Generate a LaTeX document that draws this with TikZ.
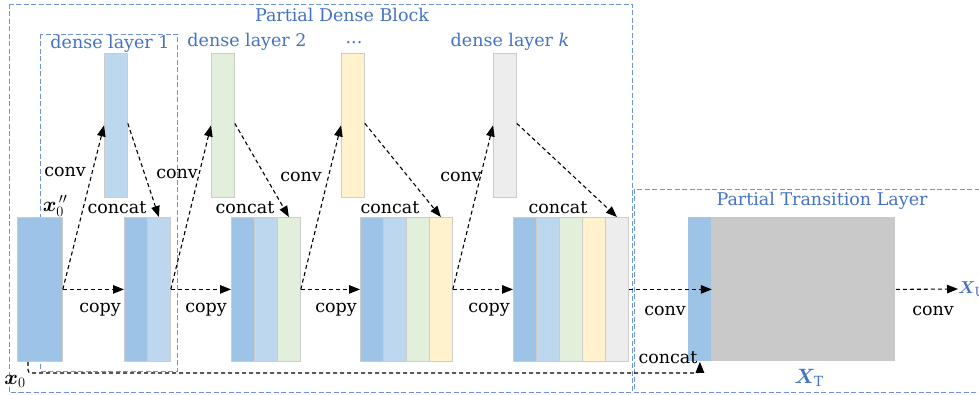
\documentclass[tikz,border=0pt]{standalone}
\usepackage{fontspec}
\usepackage{amsmath,bm}
\setmainfont{DejaVu Serif}
\usetikzlibrary{arrows.meta}
\definecolor{cA}{HTML}{9DC3E6}
\definecolor{cB}{HTML}{BDD7EE}
\definecolor{cC}{HTML}{E2EFDA}
\definecolor{cD}{HTML}{FFF2CC}
\definecolor{cE}{HTML}{EDEDED}
\definecolor{cG}{HTML}{C9C9C9}
\definecolor{tblue}{HTML}{4472C4}
\definecolor{bblue}{HTML}{6F93D6}
\tikzset{
  seg/.style={draw=black!20, line width=0.8pt, inner sep=0pt, minimum width=23pt, minimum height=144pt, anchor=north west},
  bar/.style={draw=black!20, line width=0.8pt, inner sep=0pt, minimum width=23pt, minimum height=144pt, anchor=north west},
  arr/.style={line width=1.1pt, dash pattern=on 4pt off 3pt, -{Triangle[length=11pt,width=8.5pt]}},
  frame/.style={draw=bblue, line width=0.9pt, dash pattern=on 5pt off 2.5pt},
  ttl/.style={text=tblue, inner sep=0pt, font=\fontsize{17.5}{20}\selectfont},
  lbl/.style={inner sep=0pt, font=\fontsize{17.5}{20}\selectfont}
}
\begin{document}
\begin{tikzpicture}[x=1pt,y=-1pt]
\useasboundingbox (0,0) rectangle (979,395);
% frames
\draw[frame] (9,4) rectangle (632,392);
\draw[frame] (40,34) rectangle (177,371);
\draw[frame] (634,189) rectangle (990,392);
\node[ttl] (tPDB) at (342,15) {Partial Dense Block};
\node[ttl] (tL1) at (110,44) {dense layer 1};
\node[ttl] (tL2) at (247,42) {dense layer 2};
\node[ttl] (tL3) at (354,43) {...};
\node[ttl] (tLk) at (510,42) {dense layer \textit{k}};
\node[ttl] (tPTL) at (822,201) {Partial Transition Layer};
% top bars
\node[bar, fill=cB] (p1) at (104,53) {};
\node[bar, fill=cC] (p2) at (211,53) {};
\node[bar, fill=cD] (p3) at (341,53) {};
\node[bar, fill=cE] (p4) at (493,53) {};
% block 0
\node[seg, fill=cA, minimum width=45pt] (b0) at (17,217) {};
% block 1
\node[seg, fill=cA] (b1a) at (124,217) {};
\node[seg, fill=cB] (b1b) at (147,217) {};
% block 2
\node[seg, fill=cA] (b2a) at (231,217) {};
\node[seg, fill=cB] (b2b) at (254,217) {};
\node[seg, fill=cC] (b2c) at (277,217) {};
% block 3
\node[seg, fill=cA] (b3a) at (360,217) {};
\node[seg, fill=cB] (b3b) at (383,217) {};
\node[seg, fill=cC] (b3c) at (406,217) {};
\node[seg, fill=cD] (b3d) at (429,217) {};
% block 4
\node[seg, fill=cA] (b4a) at (513,217) {};
\node[seg, fill=cB] (b4b) at (536,217) {};
\node[seg, fill=cC] (b4c) at (559,217) {};
\node[seg, fill=cD] (b4d) at (582,217) {};
\node[seg, fill=cE] (b4e) at (605,217) {};
% transition
\node[seg, fill=cG, draw=none, minimum width=184pt] (tg) at (711,217) {};
\node[seg, fill=cA, draw=none] (tb) at (688,217) {};
% arrows: copy
\draw[arr] (b0.east) -- (b1a.west);
\draw[arr] (b1b.east) -- (b2a.west);
\draw[arr] (b2c.east) -- (b3a.west);
\draw[arr] (b3d.east) -- (b4a.west);
\draw[arr] (b4e.east) -- (tb.east);
\coordinate (xu) at (958,289);
\draw[arr] (tg.east) -- (xu);
% conv up
\draw[arr] (b0.east) -- (p1.west);
\draw[arr] (b1b.east) -- (p2.west);
\draw[arr] (b2c.east) -- (p3.west);
\draw[arr] (b3d.east) -- (p4.west);
% concat down
\draw[arr] ([yshift=2pt]p1.east) -- (b1b.north);
\draw[arr] ([yshift=2pt]p2.east) -- (b2c.north);
\draw[arr] ([yshift=2pt]p3.east) -- (b3d.north);
\draw[arr] ([yshift=2pt]p4.east) -- (b4e.north);
% x0 skip path
\coordinate (x0c) at (28,373);
\draw[arr, rounded corners=3pt] (b0.south -| x0c) -- (x0c) -| (tb.south);
% labels
\node[lbl] (l1) at (65,172) {conv};
\node[lbl] (l2) at (177,174) {conv};
\node[lbl] (l3) at (301,177) {conv};
\node[lbl] (l4) at (461,177) {conv};
\node[lbl] (l5) at (665,311) {conv};
\node[lbl] (l6) at (933,311) {conv};
\node[lbl] (c1) at (117,208) {concat};
\node[lbl] (c2) at (245,208) {concat};
\node[lbl] (c3) at (390,208) {concat};
\node[lbl] (c4) at (558,208) {concat};
\node[lbl] (c5) at (668,358) {concat};
\node[lbl] (k1) at (100,310) {copy};
\node[lbl] (k2) at (206,310) {copy};
\node[lbl] (k3) at (336,310) {copy};
\node[lbl] (k4) at (489,310) {copy};
\node[lbl, font=\fontsize{20}{22}\selectfont] (x0a) at (55,206) {$\bm{x}_0^{\,\prime\prime}$};
\node[lbl, font=\fontsize{20}{22}\selectfont] (x0b) at (15,381) {$\bm{x}_0$};
\node[lbl, text=tblue, font=\fontsize{20}{22}\selectfont] (XT) at (809,378) {$\bm{X}_{\mathrm{T}}$};
\node[lbl, text=tblue, anchor=west, font=\fontsize{18}{20}\selectfont] (XU) at (xu) {$\bm{X}_{\mathrm{U}}$};
\end{tikzpicture}
\end{document}
